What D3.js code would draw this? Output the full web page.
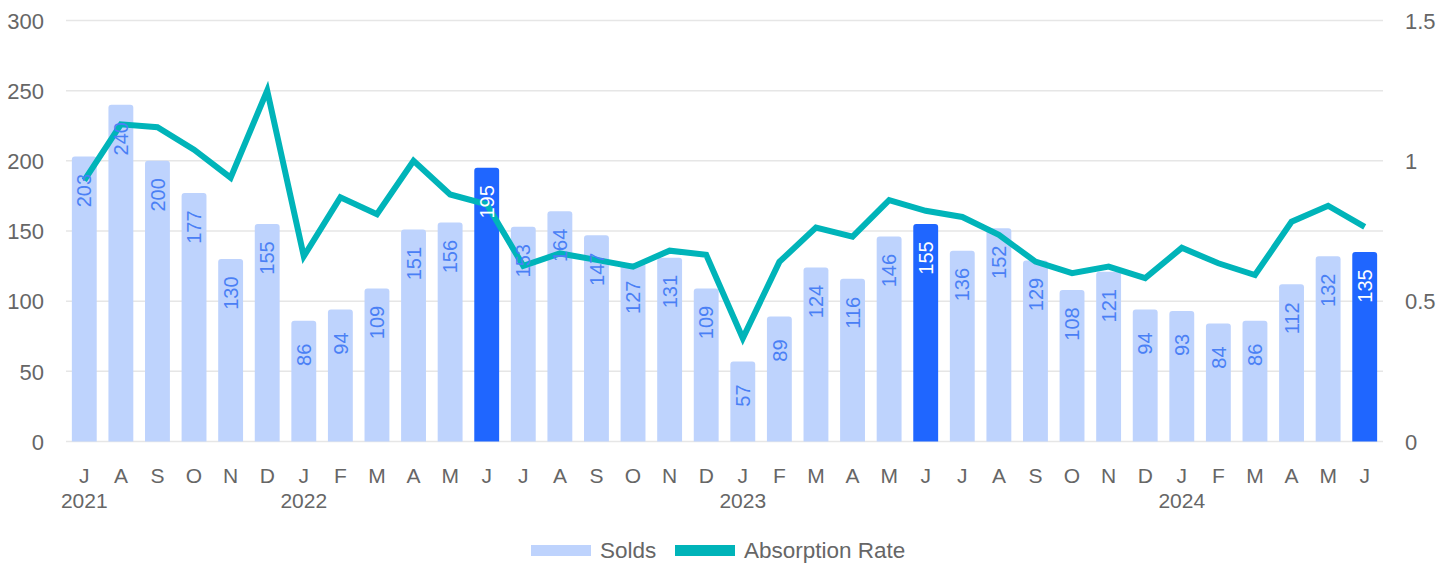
<!DOCTYPE html>
<html>
<head>
<meta charset="utf-8">
<script src="https://cdn.jsdelivr.net/npm/d3@7"></script>
<style>
  body { margin: 0; background: #fff; }
  svg text { font-family: "Liberation Sans", Arial, sans-serif; }
</style>
</head>
<body>
<div id="chart"></div>
<script>
// ----- data -----
var monthLetters = ['J','A','S','O','N','D','J','F','M','A','M','J',
                    'J','A','S','O','N','D','J','F','M','A','M','J',
                    'J','A','S','O','N','D','J','F','M','A','M','J'];
var yearLabels = ['2021','','','','','','2022','','','','','',
                  '','','','','','','2023','','','','','',
                  '','','','','','','2024','','','','',''];
var solds = [203, 240, 200, 177, 130, 155, 86, 94, 109, 151, 156, 195,
             153, 164, 147, 127, 131, 109, 57, 89, 124, 116, 146, 155,
             136, 152, 129, 108, 121, 94, 93, 84, 86, 112, 132, 135];
var absorption = [0.93, 1.13, 1.12, 1.04, 0.94, 1.25, 0.66, 0.87, 0.81, 1.0, 0.88, 0.845,
                  0.626, 0.67, 0.647, 0.623, 0.68, 0.665, 0.368, 0.64, 0.762, 0.73, 0.86, 0.822,
                  0.80, 0.736, 0.641, 0.60, 0.623, 0.582, 0.69, 0.635, 0.593, 0.783, 0.84, 0.765];
var highlighted = [11, 23, 35];   // June bars
var leftTicks = [0, 50, 100, 150, 200, 250, 300];
var rightTicks = [0, 0.5, 1, 1.5];

var svgWidth = 1455, svgHeight = 565;
var plotLeft = 66, plotRight = 1383, plotTop = 20.5, plotBottom = 441.5;

var lightBlue = '#bed3fd', darkBlue = '#1f66ff', teal = '#00b4b9';
var grey = '#666';

var svg = d3.select('#chart').append('svg')
            .attr('width', svgWidth)
            .attr('height', svgHeight);

var idx = d3.range(solds.length);
var xscale = d3.scaleBand()
               .domain(idx)
               .range([plotLeft, plotRight])
               .paddingInner(0.32)
               .paddingOuter(0.16);
var yscale = d3.scaleLinear().domain([0, 300]).range([plotBottom, plotTop]);
var y2scale = d3.scaleLinear().domain([0, 1.5]).range([plotBottom, plotTop]);

// grid lines
svg.append('g')
   .selectAll('line')
   .data(leftTicks)
   .join('line')
   .attr('x1', plotLeft)
   .attr('x2', plotRight)
   .attr('y1', d => yscale(d))
   .attr('y2', d => yscale(d))
   .attr('stroke', '#e6e6e6')
   .attr('stroke-width', 1.5);

// left axis
var yaxis = d3.axisLeft(yscale).tickValues(leftTicks).tickSize(0).tickPadding(0);
var gy = svg.append('g').attr('transform', 'translate(44,0)').call(yaxis);
gy.select('.domain').remove();
gy.selectAll('text').style('font-size', '22px').attr('fill', grey).attr('dy', '0.35em');

// right axis
var y2axis = d3.axisRight(y2scale).tickValues(rightTicks).tickSize(0).tickPadding(0)
               .tickFormat(d => String(d));
var gy2 = svg.append('g').attr('transform', 'translate(1405,0)').call(y2axis);
gy2.select('.domain').remove();
gy2.selectAll('text').style('font-size', '22px').attr('fill', grey).attr('dy', '0.35em');

// x axis: month letters
var xaxis = d3.axisBottom(xscale).tickSize(0).tickPadding(0).tickFormat(i => monthLetters[i]);
var gx = svg.append('g').attr('transform', 'translate(0,483)').call(xaxis);
gx.select('.domain').remove();
gx.selectAll('text').style('font-size', '21px').attr('fill', grey).attr('dy', 0);

// year labels
var yearAxis = d3.axisBottom(xscale).tickSize(0).tickPadding(0).tickFormat(i => yearLabels[i]);
var gyear = svg.append('g').attr('transform', 'translate(0,508)').call(yearAxis);
gyear.select('.domain').remove();
gyear.selectAll('text').style('font-size', '21px').attr('fill', grey).attr('dy', 0);

// bars with rounded tops
function barPath(x, y, w, h, r) {
    r = Math.min(r, h);
    return 'M' + x + ',' + (y + h) +
           'V' + (y + r) +
           'Q' + x + ',' + y + ' ' + (x + r) + ',' + y +
           'H' + (x + w - r) +
           'Q' + (x + w) + ',' + y + ' ' + (x + w) + ',' + (y + r) +
           'V' + (y + h) + 'Z';
}

svg.append('g')
   .selectAll('path')
   .data(idx)
   .join('path')
   .attr('d', i => barPath(xscale(i), yscale(solds[i]), xscale.bandwidth(), plotBottom - yscale(solds[i]), 3))
   .attr('fill', i => highlighted.includes(i) ? darkBlue : lightBlue);

// absorption line
var line = d3.line()
             .x(i => xscale(i) + xscale.bandwidth() / 2)
             .y(i => y2scale(absorption[i]));
svg.append('path')
   .datum(idx)
   .attr('d', line)
   .attr('fill', 'none')
   .attr('stroke', teal)
   .attr('stroke-width', 6)
   .attr('stroke-linejoin', 'miter');

// bar labels (drawn over the line)
svg.append('g')
   .selectAll('text')
   .data(idx)
   .join('text')
   .attr('transform', i => 'translate(' + (xscale(i) + xscale.bandwidth() / 2) + ',' + (yscale(solds[i]) + 34) + ') rotate(-90)')
   .attr('text-anchor', 'middle')
   .attr('dy', '0.36em')
   .style('font-size', '20px')
   .attr('fill', i => highlighted.includes(i) ? '#ffffff' : '#4a80f5')
   .text(i => solds[i]);

// legend
var lg = svg.append('g');
lg.append('rect').attr('x', 531).attr('y', 545).attr('width', 60).attr('height', 11).attr('fill', lightBlue);
lg.append('text').attr('x', 600).attr('y', 558).text('Solds')
  .style('font-size', '22.5px').attr('fill', grey);
lg.append('rect').attr('x', 675).attr('y', 545).attr('width', 60).attr('height', 11).attr('fill', teal);
lg.append('text').attr('x', 744).attr('y', 558).text('Absorption Rate')
  .style('font-size', '22.5px').attr('fill', grey);
</script>
</body>
</html>
